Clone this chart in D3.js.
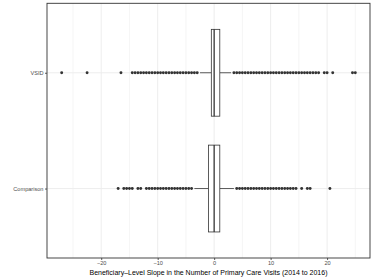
<!DOCTYPE html>
<html>
<head>
<meta charset="utf-8">
<script src="https://cdn.jsdelivr.net/npm/d3@7"></script>
<style>
    body { margin: 0; background: #fff; }
    text { font-family: "Liberation Sans", Arial, sans-serif; }
</style>
</head>
<body>
<div id="chart"></div>
<script>
// groups, top to bottom as drawn
var groups = ['VSID', 'Comparison'];

// box stats per group: [whiskerLow, q1, median, q3, whiskerHigh]
var vsidStats = [-2.5, -0.5, 0, 1, 3];
var comparisonStats = [-3.5, -1, 0, 1, 3.5];

// outliers (slopes come in steps of 0.5)
var vsidOutliers = [
    -27, -22.5, -16.5,
    -14.5, -14, -13.5, -13, -12.5, -12, -11.5, -11, -10.5, -10, -9.5, -9,
    -8.5, -8, -7.5, -7, -6.5, -6, -5.5, -5, -4.5, -4, -3.5, -3,
    3.5, 4, 4.5, 5, 5.5, 6, 6.5, 7, 7.5, 8, 8.5, 9, 9.5, 10, 10.5, 11,
    11.5, 12, 12.5, 13, 13.5, 14, 14.5, 15, 15.5, 16, 16.5, 17, 17.5, 18, 18.5,
    19.5, 20, 21, 24.5, 25
];
var comparisonOutliers = [
    -17, -16, -15.5, -15, -14.5, -13.5, -13,
    -12, -11.5, -11, -10.5, -10, -9.5, -9, -8.5, -8, -7.5, -7, -6.5, -6,
    -5.5, -5, -4.5, -4,
    4, 4.5, 5, 5.5, 6, 6.5, 7, 7.5, 8, 8.5, 9, 9.5, 10, 10.5, 11, 11.5,
    12, 12.5, 13, 13.5, 14, 14.5,
    15.5, 16.5, 17, 20.5
];

var xMajorTicks = [-20, -10, 0, 10, 20];
var xMinorTicks = [-25, -15, -5, 5, 15, 25];
var xAxisLabel = 'Beneficiary\u2013Level Slope in the Number of Primary Care Visits (2014 to 2016)';

var config = {
    width: 374,
    height: 280,
    margin: { left: 47, right: 4, top: 3.3, bottom: 22 }
};

var data = [
    { group: 'VSID', stats: vsidStats, outliers: vsidOutliers },
    { group: 'Comparison', stats: comparisonStats, outliers: comparisonOutliers }
];

var innerW = config.width - config.margin.left - config.margin.right;
var innerH = config.height - config.margin.top - config.margin.bottom;

// ggplot style 5% expansion on continuous axis
var allVals = vsidOutliers.concat(comparisonOutliers);
var lo = d3.min(allVals), hi = d3.max(allVals);
var pad = (hi - lo) * 0.05;

var x = d3.scaleLinear().domain([lo - pad, hi + pad]).range([0, innerW]);
var y = d3.scalePoint().domain(groups).range([0, innerH]).padding(0.6);
var boxH = y.step() * 0.75;

var svg = d3
    .select('#chart')
    .append('svg')
    .attr('width', config.width)
    .attr('height', config.height)
    .append('g')
    .attr('transform', 'translate(' + config.margin.left + ',' + config.margin.top + ')');

// grid
svg.append('g')
    .selectAll('line')
    .data(xMinorTicks)
    .enter()
    .append('line')
    .attr('x1', d => x(d)).attr('x2', d => x(d))
    .attr('y1', 0).attr('y2', innerH)
    .attr('stroke', '#ebebeb').attr('stroke-width', 0.5);

svg.append('g')
    .selectAll('line')
    .data(xMajorTicks)
    .enter()
    .append('line')
    .attr('x1', d => x(d)).attr('x2', d => x(d))
    .attr('y1', 0).attr('y2', innerH)
    .attr('stroke', '#ebebeb').attr('stroke-width', 0.9);

svg.append('g')
    .selectAll('line')
    .data(groups)
    .enter()
    .append('line')
    .attr('x1', 0).attr('x2', innerW)
    .attr('y1', d => y(d)).attr('y2', d => y(d))
    .attr('stroke', '#ebebeb').attr('stroke-width', 0.9);

// boxes
var box = svg.selectAll('.box')
    .data(data)
    .enter()
    .append('g')
    .attr('class', 'box')
    .attr('transform', d => 'translate(0,' + y(d.group) + ')');

box.append('line')
    .attr('x1', d => x(d.stats[0])).attr('x2', d => x(d.stats[1]))
    .attr('y1', 0).attr('y2', 0)
    .attr('stroke', '#333').attr('stroke-width', 0.8);

box.append('line')
    .attr('x1', d => x(d.stats[3])).attr('x2', d => x(d.stats[4]))
    .attr('y1', 0).attr('y2', 0)
    .attr('stroke', '#333').attr('stroke-width', 0.8);

box.append('rect')
    .attr('x', d => x(d.stats[1]))
    .attr('width', d => x(d.stats[3]) - x(d.stats[1]))
    .attr('y', -boxH / 2)
    .attr('height', boxH)
    .attr('fill', '#fff')
    .attr('stroke', '#333')
    .attr('stroke-width', 0.8);

box.append('line')
    .attr('x1', d => x(d.stats[2])).attr('x2', d => x(d.stats[2]))
    .attr('y1', -boxH / 2).attr('y2', boxH / 2)
    .attr('stroke', '#333').attr('stroke-width', 1.3);

box.selectAll('circle')
    .data(d => d.outliers)
    .enter()
    .append('circle')
    .attr('cx', d => x(d))
    .attr('cy', 0)
    .attr('r', 1.45)
    .attr('fill', '#333');

// panel border
svg.append('rect')
    .attr('width', innerW).attr('height', innerH)
    .attr('fill', 'none')
    .attr('stroke', '#333')
    .attr('stroke-width', 0.9);

// axes
var xAxis = d3.axisBottom(x).tickValues(xMajorTicks).tickSize(2).tickPadding(1.5);
var yAxis = d3.axisLeft(y).tickSize(2).tickPadding(1.5);

var gx = svg.append('g')
    .attr('transform', 'translate(0,' + innerH + ')')
    .call(xAxis);
var gy = svg.append('g').call(yAxis);

[gx, gy].forEach(g => {
    g.select('.domain').remove();
    g.selectAll('.tick line').attr('stroke', '#333').attr('stroke-width', 0.8);
    g.selectAll('.tick text')
        .attr('fill', '#4d4d4d')
        .style('font-size', '5.6px')
        .style('font-family', '"Liberation Sans", Arial, sans-serif');
});

svg.append('text')
    .attr('text-anchor', 'middle')
    .attr('x', innerW / 2)
    .attr('y', innerH + 17.5)
    .style('font-size', '7px')
    .attr('fill', '#000')
    .text(xAxisLabel);
</script>
</body>
</html>
